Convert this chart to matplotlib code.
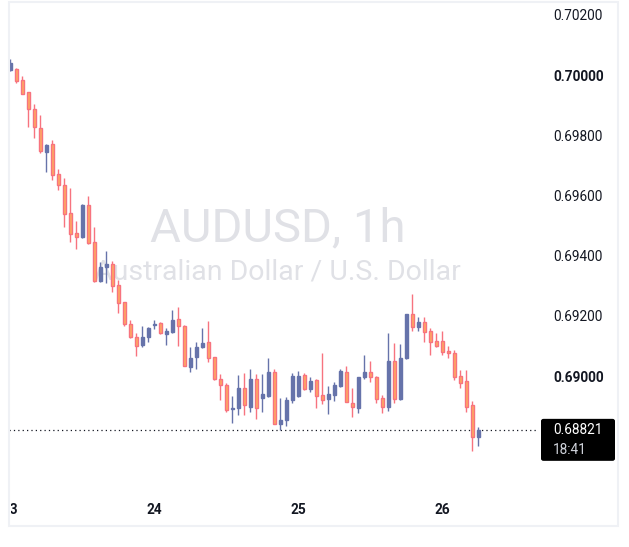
import matplotlib
matplotlib.use("Agg")
import matplotlib.pyplot as plt
from matplotlib.patches import Rectangle, FancyBboxPatch

# hourly AUDUSD candles, 23rd 00:00 onwards
opens = [0.70017, 0.70020, 0.69983, 0.69943, 0.69889, 0.69826, 0.69745, 0.69770, 0.69670, 0.69635,
         0.69541, 0.69474, 0.69461, 0.69568, 0.69444, 0.69317, 0.69363, 0.69372, 0.69302, 0.69245,
         0.69172, 0.69129, 0.69103, 0.69129, 0.69169, 0.69175, 0.69139, 0.69147, 0.69189, 0.69167,
         0.69031, 0.69064, 0.69095, 0.69112, 0.69062, 0.68989, 0.68969, 0.68889, 0.68895, 0.68959,
         0.68898, 0.68989, 0.68928, 0.68934, 0.69013, 0.68841, 0.68854, 0.68920, 0.68934, 0.69003,
         0.68957, 0.68987, 0.68937, 0.68924, 0.68937, 0.68968, 0.69012, 0.68909, 0.68895, 0.68998,
         0.69012, 0.68996, 0.68926, 0.68898, 0.69050, 0.68923, 0.69059, 0.69206, 0.69162, 0.69178,
         0.69150, 0.69116, 0.69116, 0.69083, 0.69075, 0.69000, 0.68983, 0.68904, 0.68798]
highs = [0.70053, 0.70024, 0.69997, 0.69944, 0.69903, 0.69867, 0.69771, 0.69784, 0.69687, 0.69657,
         0.69626, 0.69515, 0.69571, 0.69599, 0.69496, 0.69378, 0.69415, 0.69382, 0.69319, 0.69246,
         0.69186, 0.69144, 0.69167, 0.69164, 0.69186, 0.69178, 0.69160, 0.69219, 0.69230, 0.69169,
         0.69097, 0.69112, 0.69160, 0.69183, 0.69064, 0.69007, 0.68978, 0.68935, 0.69003, 0.69011,
         0.69022, 0.69007, 0.69007, 0.69059, 0.69022, 0.68928, 0.68931, 0.69011, 0.69017, 0.69009,
         0.68998, 0.68990, 0.69077, 0.68968, 0.68981, 0.69023, 0.69033, 0.68961, 0.68997, 0.69070,
         0.69050, 0.69001, 0.68937, 0.69142, 0.69109, 0.69105, 0.69207, 0.69272, 0.69195, 0.69197,
         0.69160, 0.69142, 0.69150, 0.69100, 0.69086, 0.69020, 0.69020, 0.68917, 0.68832]
lows = [0.70014, 0.69974, 0.69937, 0.69828, 0.69792, 0.69742, 0.69679, 0.69653, 0.69618, 0.69496,
        0.69444, 0.69421, 0.69458, 0.69439, 0.69314, 0.69311, 0.69308, 0.69278, 0.69210, 0.69167,
        0.69125, 0.69067, 0.69097, 0.69114, 0.69156, 0.69140, 0.69103, 0.69144, 0.69101, 0.69032,
        0.69014, 0.69023, 0.69094, 0.69046, 0.68987, 0.68920, 0.68881, 0.68843, 0.68870, 0.68870,
        0.68881, 0.68857, 0.68879, 0.68929, 0.68839, 0.68821, 0.68834, 0.68909, 0.68931, 0.68954,
        0.68946, 0.68895, 0.68906, 0.68874, 0.68918, 0.68964, 0.68912, 0.68865, 0.68876, 0.68990,
        0.68981, 0.68909, 0.68878, 0.68885, 0.68909, 0.68920, 0.69058, 0.69150, 0.69150, 0.69114,
        0.69070, 0.69095, 0.69070, 0.69061, 0.68987, 0.68959, 0.68881, 0.68751, 0.68768]
closes = [0.70039, 0.69981, 0.69939, 0.69886, 0.69828, 0.69749, 0.69767, 0.69668, 0.69635, 0.69537,
          0.69471, 0.69463, 0.69568, 0.69443, 0.69316, 0.69363, 0.69372, 0.69300, 0.69242, 0.69173,
          0.69129, 0.69101, 0.69129, 0.69158, 0.69173, 0.69142, 0.69150, 0.69186, 0.69167, 0.69033,
          0.69059, 0.69095, 0.69109, 0.69059, 0.68989, 0.68969, 0.68887, 0.68895, 0.68959, 0.68904,
          0.68989, 0.68895, 0.68940, 0.69014, 0.68840, 0.68854, 0.68920, 0.69000, 0.69000, 0.68957,
          0.68983, 0.68935, 0.68920, 0.68939, 0.68970, 0.69017, 0.68913, 0.68896, 0.68996, 0.69012,
          0.68996, 0.68923, 0.68898, 0.69050, 0.68923, 0.69061, 0.69206, 0.69162, 0.69178, 0.69145,
          0.69114, 0.69101, 0.69081, 0.69077, 0.68998, 0.68978, 0.68898, 0.68798, 0.68821]

day_labels = ["23", "24", "25", "26"]
day_start = [0, 24, 48, 72]
price_ticks = [0.690, 0.692, 0.694, 0.696, 0.698, 0.700, 0.702]
bold_ticks = [0.690, 0.700]
last_price = 0.68821
countdown = "18:41"
symbol = "AUDUSD, 1h"
description = "Australian Dollar / U.S. Dollar"

UP = "#6673aa"
DOWN_FILL = "#ffa862"
DOWN_EDGE = "#f7737f"

W, H = 629, 547
plt.rcParams["font.family"] = ["Roboto", "DejaVu Sans"]


def fx(px):
    return px / W


def fy(py):
    return 1 - py / H


fig = plt.figure(figsize=(W / 100, H / 100), dpi=100)

# pane geometry in pixels
left, right, bottom = 9, 538, 492
bar_px = 6.0
first_px = 10.3
xmin = -(first_px - left) / bar_px
xmax = xmin + (right - left) / bar_px
# 0.702 sits at y=15 px, 0.690 at y=376 px
px_per_price = (376 - 15) / 0.012
ytop = 0.690 + 376 / px_per_price
ybot = 0.690 - (bottom - 376) / px_per_price

ax = fig.add_axes([fx(left), fy(bottom), (right - left) / W, bottom / H])
ax.set_xlim(xmin, xmax)
ax.set_ylim(ybot, ytop)
for s in ax.spines.values():
    s.set_visible(False)
ax.set_xticks([])
ax.yaxis.tick_right()
ax.set_yticks(price_ticks)
ax.set_yticklabels([f"{p:.5f}" for p in price_ticks])
ax.tick_params(axis="y", length=0, pad=11, labelsize=9.8, labelcolor="#131722")
for lab, p in zip(ax.get_yticklabels(), price_ticks):
    if p in bold_ticks:
        lab.set_fontweight("bold")

# watermark
ax.text(0.508, 0.535, symbol, transform=ax.transAxes, ha="center", va="center",
        fontsize=34, color="#e0e1e6", zorder=0)
ax.text(0.508, 0.447, description, transform=ax.transAxes, ha="center", va="center",
        fontsize=20.5, color="#e0e1e6", zorder=0)

bw = 0.52
for i, (o, h, l, c) in enumerate(zip(opens, highs, lows, closes)):
    up = c >= o
    edge = UP if up else DOWN_EDGE
    fill = UP if up else DOWN_FILL
    ax.vlines(i, l, h, color=edge, lw=1.0, zorder=2)
    lo = min(o, c)
    ht = max(abs(c - o), 0.000005)
    ax.add_patch(Rectangle((i - bw / 2, lo), bw, ht, facecolor=fill,
                           edgecolor=edge, lw=1.0, zorder=3))

ax.axhline(last_price, color="#131722", lw=0.9, linestyle=(0, (1, 2.5)), zorder=1)

# time scale
ax_t = fig.add_axes([fx(10.5), fy(527), (right - 10.5) / W, (527 - bottom) / H])
ax_t.set_xlim(xmin + (10.5 - left) / bar_px, xmax)
ax_t.set_ylim(0, 1)
ax_t.axis("off")
for idx, lab in zip(day_start, day_labels):
    ax_t.text(idx, 0.5, lab, ha="center", va="center", fontsize=9.8,
              fontweight="bold", color="#131722", clip_on=True)

# last price label
box_y = ax.transData.transform((0, last_price))[1]
box_top_px = H - box_y - 11
fig.patches.append(FancyBboxPatch((fx(541), fy(box_top_px + 42)), 74 / W, 42 / H,
                                  boxstyle="round,pad=0,rounding_size=0.004",
                                  transform=fig.transFigure, facecolor="black",
                                  edgecolor="none"))
fig.text(fx(553), fy(box_top_px + 11), f"{last_price:.5f}", ha="left", va="center",
         fontsize=9.8, color="white")
fig.text(fx(553), fy(box_top_px + 31), countdown, ha="left", va="center",
         fontsize=9.8, color="#d1d4dc")

# outer border
fig.patches.append(Rectangle((fx(9), fy(526)), (618 - 9) / W, (526 - 2) / H,
                             transform=fig.transFigure, fill=False,
                             edgecolor="#eff1f5", lw=1.5))

fig.savefig("out.png", dpi=100, facecolor="white")
